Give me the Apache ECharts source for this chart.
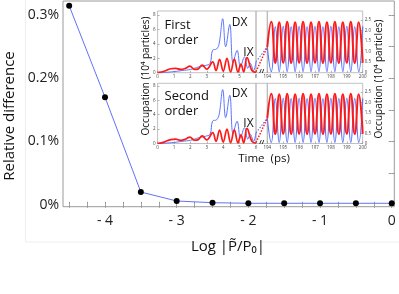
<!DOCTYPE html>
<html><head><meta charset="utf-8">
<script src="https://cdn.jsdelivr.net/npm/echarts@6/dist/echarts.min.js"></script>
<style>html,body{margin:0;padding:0;background:#fff}#c{width:399px;height:294px}</style>
</head><body><div id="c"></div>
<script>
// ---- main chart data ----
const logP = [-4.5, -4, -3.5, -3, -2.5, -2, -1.5, -1, -0.5, 0];
const relDiff = [0.3145, 0.170, 0.0202, 0.0060, 0.0033, 0.0024, 0.0024, 0.0024, 0.0024, 0.0024];
const xMajor = [-4, -3, -2, -1, 0];
const xMinor = [-4.5, -4.25, -4, -3.75, -3.5, -3.25, -3, -2.75, -2.5, -2.25, -2, -1.75, -1.5, -1.25, -1, -0.75, -0.5, -0.25, 0];
const yMajor = [0, 0.1, 0.2, 0.3];
const yMinor = [0, 0.05, 0.1, 0.15, 0.2, 0.25, 0.3];

// ---- inset data: early times (0-6 ps) ----
const tDX  = [0, 0.5, 1.0, 1.5, 2.0, 2.5, 2.9, 3.2, 3.35, 3.6, 3.75, 3.97, 4.15, 4.4, 4.6, 4.85, 5.05, 5.3, 5.5, 5.65, 5.85, 6.0];
const dxEarly = [0, 0.05, 0.15, 0.3, 0.45, 0.8, 1.0, 1.3, 3.1, 3.3, 4.0, 7.5, 3.6, 6.7, 1.4, 3.1, 0.8, 2.2, 0.6, 1.3, 0.3, 1.5];
const tIX  = [0, 0.4, 0.8, 1.1, 1.4, 1.7, 1.97, 2.25, 2.45, 2.72, 3.0, 3.36, 3.56, 3.78, 4.0, 4.23, 4.45, 4.68, 4.9, 5.08, 5.25, 5.45, 5.75, 6.0];
const ixEarly = [0, 0.2, 0.55, 0.6, 0.45, 0.6, 0.9, 0.45, 0.5, 1.05, 0.5, 1.5, 0.3, 1.85, 0.2, 2.0, 0.1, 1.9, 0.1, 1.2, 0.1, 2.1, 0.3, 0.05];
// ---- inset data: late times (194-200 ps) ----
const tLate = [194, 194.25, 194.5, 194.75, 195, 195.25, 195.5, 195.75, 196, 196.25, 196.5, 196.75, 197, 197.25, 197.5, 197.75, 198, 198.25, 198.5, 198.75, 199, 199.25, 199.5, 199.75, 200];
const ixLate = [1.23, 2.42, 0.46, 2.4, 0.47, 2.42, 0.46, 2.4, 0.47, 2.42, 0.46, 2.4, 0.47, 2.42, 0.46, 2.4, 0.47, 2.42, 0.46, 2.4, 0.47, 2.42, 0.46, 2.4, 0.47];
const dxLate = [1.23, 0.05, 2.18, 0.05, 2.2, 0.05, 2.18, 0.05, 2.2, 0.05, 2.18, 0.05, 2.2, 0.05, 2.18, 0.05, 2.2, 0.05, 2.18, 0.05, 2.2, 0.05, 2.18, 0.05, 2.2];
// ---- dotted connectors across the time break ----
const tGap = [0, 1];
const dxGap = [0.52, 1.23];
const ixGap = [0.05, 1.23];
// ---- inset tick labels ----
const tEarlyTicks = [0, 1, 2, 3, 4, 5, 6];
const tLateTicks = [194, 195, 196, 197, 198, 199, 200];
const occEarlyTicks = [0, 2, 4, 6, 8];
const occLateTicks = [0, 0.5, 1.0, 1.5, 2.0, 2.5];

const FF = '"Open Sans", "Noto Sans", "DejaVu Sans", sans-serif';
const BLUE = '#5b74ff', RED = '#ff1a1a', GRID = '#9a9a9a';
const pairs = (xs, ys) => xs.map((x, i) => [x, ys[i]]);

const chart = echarts.init(document.getElementById('c'), null, {renderer: 'canvas'});

// grids: 0 main, 1 TL, 2 gapT, 3 TR, 4 BL, 5 gapB, 6 BR
const grids = [
  {left: 63, top: 1, width: 331.3, height: 205.7, show: true, borderColor: GRID, borderWidth: 1},
  {left: 157.6, top: 11, width: 98.4, height: 61.7, show: true, borderColor: '#b0b0b0', borderWidth: 0.8},
  {left: 256, top: 11, width: 11.3, height: 61.7, show: true, borderColor: '#b0b0b0', borderWidth: 0.8},
  {left: 267.3, top: 11, width: 95.4, height: 61.7, show: true, borderColor: '#b0b0b0', borderWidth: 0.8},
  {left: 157.6, top: 83.3, width: 98.4, height: 60.2, show: true, borderColor: '#b0b0b0', borderWidth: 0.8},
  {left: 256, top: 83.3, width: 11.3, height: 60.2, show: true, borderColor: '#b0b0b0', borderWidth: 0.8},
  {left: 267.3, top: 83.3, width: 95.4, height: 60.2, show: true, borderColor: '#b0b0b0', borderWidth: 0.8}
];

const tiny = {fontSize: 4.5, color: '#444', fontFamily: FF};
function insetX(g, min, max, ticks) {
  return {type: 'value', gridIndex: g, min: min, max: max, position: 'bottom',
    axisLine: {show: false}, splitLine: {show: false},
    axisTick: {show: true, inside: true, length: 2, customValues: ticks, lineStyle: {color: '#888', width: 0.6}},
    axisLabel: Object.assign({show: true, customValues: ticks, margin: 2}, tiny)};
}
function insetY(g, min, max, ticks, pos, fmt) {
  return {type: 'value', gridIndex: g, min: min, max: max, position: pos,
    axisLine: {show: false}, splitLine: {show: false},
    axisTick: {show: true, inside: true, length: 2, customValues: ticks, lineStyle: {color: '#888', width: 0.6}},
    axisLabel: Object.assign({show: true, customValues: ticks, margin: 2, formatter: fmt}, tiny)};
}
function hiddenAxis(g, min, max) {
  return {type: 'value', gridIndex: g, min: min, max: max, show: false, splitLine: {show: false}};
}
const lateFmt = v => v === 0 ? '0' : v.toFixed(1);

const xAxes = [
  {type: 'value', gridIndex: 0, min: -4.586, max: 0.036, position: 'bottom',
    axisLine: {show: false}, splitLine: {show: false},
    axisTick: {show: true, inside: true, length: 3, customValues: xMinor, lineStyle: {color: GRID}},
    axisLabel: {show: true, customValues: xMajor, margin: 7, fontSize: 14, color: '#222', fontFamily: FF,
      formatter: v => v < 0 ? '- ' + (-v) : String(v)}},
  {type: 'value', gridIndex: 0, min: -4.586, max: 0.036, position: 'top',
    axisLine: {show: false}, splitLine: {show: false}, axisLabel: {show: false},
    axisTick: {show: true, inside: true, length: 3, customValues: xMinor, lineStyle: {color: GRID}}},
  insetX(1, 0, 6, tEarlyTicks),
  hiddenAxis(2, 0, 1),
  insetX(3, 194, 200, tLateTicks),
  insetX(4, 0, 6, tEarlyTicks),
  hiddenAxis(5, 0, 1),
  insetX(6, 194, 200, tLateTicks)
];
const yAxes = [
  {type: 'value', gridIndex: 0, min: -0.003, max: 0.322, position: 'left',
    axisLine: {show: false}, splitLine: {show: false},
    axisTick: {show: true, inside: true, length: 3, customValues: yMinor, lineStyle: {color: GRID}},
    axisLabel: {show: true, customValues: yMajor, margin: 4, fontSize: 14, color: '#222', fontFamily: FF,
      formatter: v => (v === 0 ? '0' : v.toFixed(1)) + '%'}},
  {type: 'value', gridIndex: 0, min: -0.003, max: 0.322, position: 'right',
    axisLine: {show: false}, splitLine: {show: false}, axisLabel: {show: false},
    axisTick: {show: true, inside: true, length: 3, customValues: yMinor, lineStyle: {color: GRID}}},
  insetY(1, 0, 8.57, occEarlyTicks, 'left', v => String(v)),
  hiddenAxis(2, 0, 2.93),
  insetY(3, 0, 2.93, occLateTicks, 'right', lateFmt),
  insetY(4, 0, 8.37, occEarlyTicks, 'left', v => String(v)),
  hiddenAxis(5, 0, 2.93),
  insetY(6, 0, 2.93, occLateTicks, 'right', lateFmt)
];

function line(xi, yi, data, color, width, dotted, smooth) {
  return {type: 'line', xAxisIndex: xi, yAxisIndex: yi, data: data, symbol: 'none', smooth: smooth,
    lineStyle: {color: color, width: width, type: dotted ? [1.5, 1.5] : 'solid'}, silent: true, animation: false};
}
const series = [
  {type: 'line', xAxisIndex: 0, yAxisIndex: 0, data: pairs(logP, relDiff),
    symbol: 'circle', symbolSize: 6, itemStyle: {color: '#000'},
    lineStyle: {color: '#6272f5', width: 1}, animation: false},
  line(2, 2, pairs(tDX, dxEarly), BLUE, 1, false, 0.4),
  line(2, 2, pairs(tIX, ixEarly), RED, 1.7, false, 0.4),
  line(3, 3, pairs(tGap, dxGap), BLUE, 1.1, true, false),
  line(3, 3, pairs(tGap, ixGap), RED, 1.5, true, false),
  line(4, 4, pairs(tLate, dxLate), BLUE, 1.2, false, 0.5),
  line(4, 4, pairs(tLate, ixLate), RED, 2, false, 0.5),
  line(5, 5, pairs(tDX, dxEarly), BLUE, 1, false, 0.4),
  line(5, 5, pairs(tIX, ixEarly), RED, 1.7, false, 0.4),
  line(6, 6, pairs(tGap, dxGap), BLUE, 1.1, true, false),
  line(6, 6, pairs(tGap, ixGap), RED, 1.5, true, false),
  line(7, 7, pairs(tLate, dxLate), BLUE, 1.2, false, 0.5),
  line(7, 7, pairs(tLate, ixLate), RED, 2, false, 0.5)
];

function txt(x, y, s, size, opts) {
  return Object.assign({type: 'text', x: x, y: y, silent: true, z: 100,
    style: {text: s, fontSize: size, fontFamily: FF, fill: '#111',
      textAlign: (opts && opts.align) || 'center', textVerticalAlign: 'middle',
      fontWeight: (opts && opts.weight) || 'normal'}},
    (opts && opts.rot) ? {rotation: opts.rot} : {});
}
const graphic = [
  {type: 'rect', shape: {x: 25.5, y: -2, width: 380, height: 244}, silent: true, z: -10,
    style: {fill: 'none', stroke: '#eeeeee', lineWidth: 1}},
  txt(10, 116, 'Relative difference', 15, {rot: Math.PI / 2}),
  txt(228, 247, 'Log |P\u0303/P\u2080|', 15),
  txt(164.5, 25, 'First', 13, {align: 'left'}),
  txt(164.5, 40.5, 'order', 13, {align: 'left'}),
  txt(164.5, 96, 'Second', 13, {align: 'left'}),
  txt(164.5, 111, 'order', 13, {align: 'left'}),
  txt(239.5, 23, 'DX', 12),
  txt(248.5, 53, 'IX', 12),
  txt(239.5, 93.5, 'DX', 12),
  txt(248.5, 123.5, 'IX', 12),
  txt(264, 159, 'Time  (ps)', 11.5),
  txt(146, 76, 'Occupation (10\u2074 particles)', 10, {rot: Math.PI / 2}),
  txt(379, 79, 'Occupation (10\u2074 particles)', 10, {rot: Math.PI / 2}),
  txt(261.7, 71, '//', 6, {weight: 'bold'}),
  txt(261.7, 142.5, '//', 6, {weight: 'bold'})
];

chart.setOption({
  animation: false,
  backgroundColor: '#fff',
  grid: grids,
  xAxis: xAxes,
  yAxis: yAxes,
  series: series,
  graphic: graphic
});
</script>
</body></html>
